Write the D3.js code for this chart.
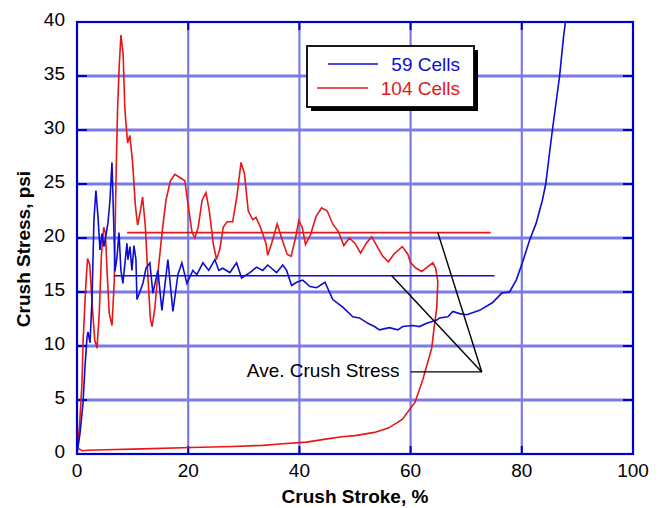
<!DOCTYPE html>
<html>
<head>
<meta charset="utf-8">
<script src="https://cdn.jsdelivr.net/npm/d3@7"></script>
<style>
  body { margin: 0; background: #fff; }
  svg { display: block; font-family: Arial, "Liberation Sans", sans-serif; }
</style>
</head>
<body>
<svg id="chart" width="662" height="508"></svg>
<script>
// crush stroke (%) vs crush stress (psi)

// 59 cells - blue
var cells59 = [
  [0,0],[0.54,1.9],[1.08,4.7],[1.44,8.1],[1.8,10.8],[1.98,11.3],[2.34,10.3],[2.7,14.3],
  [3.05,21.7],[3.4,24.4],[3.77,22],[4.13,18.9],[4.5,20.4],[4.85,19.2],[5.57,21.4],[5.93,23.5],
  [6.29,27],[6.65,20.5],[6.83,16.9],[7.19,18.2],[7.55,20.5],[7.9,17],[8.26,15.8],[8.98,19.5],
  [9.16,18],[9.52,19.2],[9.88,17],[10.24,19.3],[10.6,18],[10.78,14.3],[11.3,15],[11.86,15.8],
  [12.4,17.2],[13.1,17.7],[13.65,14.9],[14.55,17],[15.27,13.3],[16.35,18],[17.25,13.2],
  [18.15,16.6],[18.86,17.7],[19.76,15.8],[20.84,17],[21.56,16.6],[22.64,17.7],[23.7,17],
  [24.8,18],[25.5,17],[26.2,17.2],[27.5,16.8],[28.7,17.7],[29.6,16.3],[31.1,16.8],[32.3,17.3],
  [33.4,17],[34.3,17.5],[35.9,16.8],[37,17.5],[37.7,17],[38.6,15.6],[39.5,15.9],[40.6,16.1],
  [41.9,15.5],[43.1,15.4],[44.6,15.9],[46,14.3],[47.8,13.6],[49.6,12.7],[50.8,12.6],
  [52.3,12.1],[53.5,11.8],[54.4,11.5],[56.2,11.7],[57.7,11.5],[58.6,11.8],[60.4,11.9],
  [61.6,11.8],[62.9,12.1],[64.7,12.4],[65.2,12.6],[66.7,12.7],[67.6,13.2],[68.8,13],
  [70.1,12.9],[72.4,13.3],[74.7,14],[76.4,14.9],[77.8,15],[79,16.1],[80.1,17.7],[81.4,19.8],
  [82.6,21.4],[83.7,23.5],[84.3,25],[85.5,30],[86.8,35],[87.5,38.6],[87.9,40.2]
];

// 104 cells - red (loading, then unloading back to zero)
var cells104 = [
  [0,0],[0.5,3],[0.9,6.6],[1.1,10.5],[1.6,15.8],[1.9,18.1],[2.3,17.5],[2.7,14],[3.2,10.5],
  [3.6,9.8],[4.0,13],[4.4,18.5],[4.8,21],[5.1,20.5],[5.4,17],[5.8,13],[6.3,11.9],[6.7,16],
  [7.0,25],[7.3,32],[7.6,36],[7.9,38.8],[8.3,37],[8.6,32],[9.1,28.8],[9.5,29.5],[10,27],
  [10.5,23],[10.9,21.2],[11.4,22.5],[11.8,23.8],[12.3,21],[12.8,16],[13.2,12.5],[13.5,11.8],
  [14,13.5],[14.6,17],[15.3,20.5],[16,23.5],[16.8,25.3],[17.6,25.9],[18.5,25.6],[19.4,25.3],
  [20,23],[20.7,20.5],[21.2,20],[21.8,21],[22.5,23.5],[23.2,24.2],[23.8,22.5],[24.5,19.5],
  [25.1,18],[25.7,19],[26.3,21],[27,21.5],[28,21.5],[28.8,24],[29.5,27],[30.1,26],[30.8,22.5],
  [31.6,21.7],[32.2,21.9],[33,21],[34,19.5],[34.3,18.4],[35,19.5],[36,21.3],[36.8,20],
  [37.8,18.5],[38.5,18.3],[39.3,20],[39.9,21.6],[40.5,21],[41.1,19.4],[42,20.3],[43,22],
  [44,22.8],[45,22.5],[46,21.3],[47,20.6],[48,19.3],[49,20],[50,19.5],[51,18.6],[52,19.5],
  [53,20.1],[54,19.2],[55,18.3],[56,17.8],[57,18.5],[58.5,19.2],[59.5,18.5],[60,17.7],
  [61,17.2],[62,16.9],[63,17.3],[64,17.7],[64.5,17.2],[64.9,16],[64.7,13.5],[64.3,12],
  [63.8,9.8],[62.2,6.9],[60.8,4.8],[58.5,3.2],[56,2.4],[53.5,2],[50,1.7],[47.7,1.6],[45,1.4],
  [41.3,1.1],[37,0.95],[33.4,0.8],[28,0.7],[20.6,0.6],[10,0.45],[5,0.4],[2,0.35],[0.9,0.3],[0.3,0.5]
];

// average crush stress lines [x start, x end, stress]
var ave59 = [6.7, 75.1, 16.5];
var ave104 = [9.0, 74.4, 20.5];

// annotation pointer: elbow point and the two targets
var notePoint = [72.8, 7.6];
var noteStart = 60.0;
var noteTargets = [[56.6, 16.5], [64.9, 20.5]];

var xTicks = [0, 20, 40, 60, 80, 100];
var yTicks = [0, 5, 10, 15, 20, 25, 30, 35, 40];

var blue = "#0d0dd2", red = "#e61717", gridColor = "#7b7be6", frameColor = "#0000cc";

var svg = d3.select("#chart");
var x = d3.scaleLinear().domain([0, 100]).range([77, 633]);
var y = d3.scaleLinear().domain([0, 40]).range([454, 22]);

svg.append("defs").append("clipPath").attr("id", "plot")
  .append("rect").attr("x", x(0)).attr("y", y(40)).attr("width", x(100) - x(0)).attr("height", y(0) - y(40));

// grid
svg.append("g").selectAll("line").data(yTicks.slice(1, -1)).enter().append("line")
  .attr("x1", x(0)).attr("x2", x(100))
  .attr("y1", function(d) { return y(d); }).attr("y2", function(d) { return y(d); })
  .attr("stroke", gridColor).attr("stroke-width", 2.8);
svg.append("g").selectAll("line").data(xTicks.slice(1, -1)).enter().append("line")
  .attr("y1", y(0)).attr("y2", y(40))
  .attr("x1", function(d) { return x(d); }).attr("x2", function(d) { return x(d); })
  .attr("stroke", gridColor).attr("stroke-width", 2.2);

// inside ticks on all four sides
var ticks = svg.append("g").attr("stroke", frameColor).attr("stroke-width", 2);
yTicks.forEach(function(t) {
  ticks.append("line").attr("x1", x(0)).attr("x2", x(0) + 10).attr("y1", y(t)).attr("y2", y(t));
  ticks.append("line").attr("x1", x(100)).attr("x2", x(100) - 10).attr("y1", y(t)).attr("y2", y(t));
});
xTicks.forEach(function(t) {
  ticks.append("line").attr("x1", x(t)).attr("x2", x(t)).attr("y1", y(0)).attr("y2", y(0) - 8);
  ticks.append("line").attr("x1", x(t)).attr("x2", x(t)).attr("y1", y(40)).attr("y2", y(40) + 8);
});

// curves
var line = d3.line().x(function(d) { return x(d[0]); }).y(function(d) { return y(d[1]); });
var curves = svg.append("g").attr("clip-path", "url(#plot)").attr("fill", "none").attr("stroke-width", 1.6);
curves.append("path").datum(cells104).attr("d", line).attr("stroke", red);
curves.append("path").datum(cells59).attr("d", line).attr("stroke", blue);

// average lines
svg.append("line").attr("x1", x(ave104[0])).attr("x2", x(ave104[1]))
  .attr("y1", y(ave104[2])).attr("y2", y(ave104[2])).attr("stroke", red).attr("stroke-width", 1.6);
svg.append("line").attr("x1", x(ave59[0])).attr("x2", x(ave59[1]))
  .attr("y1", y(ave59[2])).attr("y2", y(ave59[2])).attr("stroke", blue).attr("stroke-width", 1.6);

// frame
svg.append("rect").attr("x", x(0)).attr("y", y(40)).attr("width", x(100) - x(0)).attr("height", y(0) - y(40))
  .attr("fill", "none").attr("stroke", frameColor).attr("stroke-width", 2.2);

// annotation
var note = svg.append("g").attr("stroke", "#000").attr("stroke-width", 1.4);
note.append("line").attr("x1", x(noteStart)).attr("x2", x(notePoint[0]))
  .attr("y1", y(notePoint[1])).attr("y2", y(notePoint[1]));
noteTargets.forEach(function(t) {
  note.append("line").attr("x1", x(notePoint[0])).attr("y1", y(notePoint[1]))
    .attr("x2", x(t[0])).attr("y2", y(t[1]));
});
svg.append("text").attr("x", x(noteStart) - 11).attr("y", y(notePoint[1]) + 5)
  .attr("text-anchor", "end").attr("font-size", 19).attr("fill", "#000").text("Ave. Crush Stress");

// tick labels
svg.append("g").selectAll("text").data(yTicks).enter().append("text")
  .attr("x", x(0) - 12).attr("y", function(d) { return y(d) + 4.3; })
  .attr("text-anchor", "end").attr("font-size", 19).text(function(d) { return d; });
svg.append("g").selectAll("text").data(xTicks).enter().append("text")
  .attr("x", function(d) { return x(d); }).attr("y", y(0) + 23)
  .attr("text-anchor", "middle").attr("font-size", 19).text(function(d) { return d; });

// axis titles
svg.append("text").attr("x", 355).attr("y", 503).attr("text-anchor", "middle")
  .attr("font-size", 19).attr("font-weight", "bold").text("Crush Stroke, %");
svg.append("text").attr("transform", "translate(30,249) rotate(-90)").attr("text-anchor", "middle")
  .attr("font-size", 19).attr("font-weight", "bold").text("Crush Stress, psi");

// legend
var legend = svg.append("g");
legend.append("rect").attr("x", 311).attr("y", 50).attr("width", 167).attr("height", 61).attr("fill", "#000");
legend.append("rect").attr("x", 307).attr("y", 46).attr("width", 167).attr("height", 61)
  .attr("fill", "#fff").attr("stroke", "#000").attr("stroke-width", 1.8);
var legendItems = [
  { label: "59 Cells", color: blue, x1: 328, x2: 378, ty: 71, ly: 64 },
  { label: "104 Cells", color: red, x1: 317, x2: 368, ty: 95, ly: 88 }
];
legendItems.forEach(function(d) {
  legend.append("line").attr("x1", d.x1).attr("x2", d.x2).attr("y1", d.ly).attr("y2", d.ly)
    .attr("stroke", d.color).attr("stroke-width", 1.4);
  legend.append("text").attr("x", 460).attr("y", d.ty).attr("text-anchor", "end")
    .attr("font-size", 19).attr("fill", d.color).text(d.label);
});
</script>
</body>
</html>
